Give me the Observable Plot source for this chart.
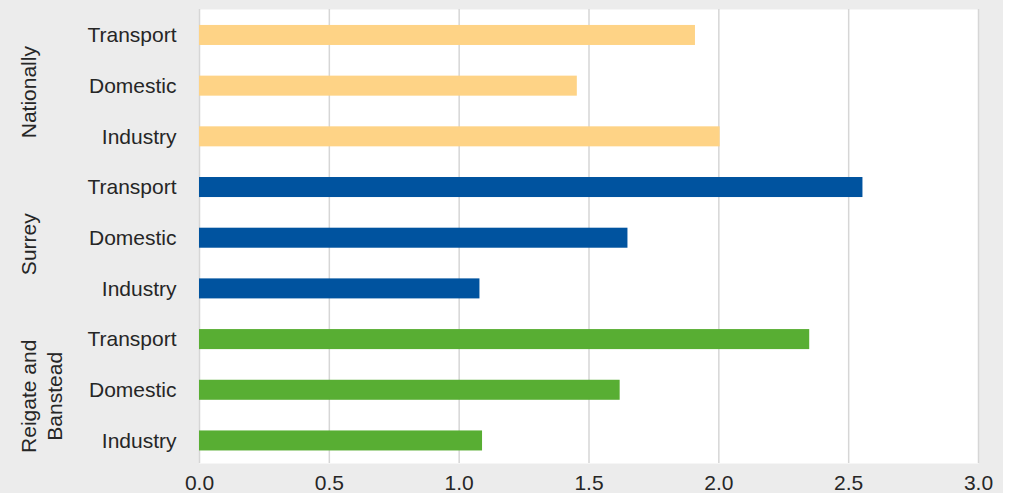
<!DOCTYPE html>
<html>
<head>
<meta charset="utf-8">
<script src="https://cdn.jsdelivr.net/npm/d3@7"></script>
<script src="https://cdn.jsdelivr.net/npm/@observablehq/plot@0.6"></script>
<style>
  html, body { margin: 0; padding: 0; background: #ffffff; }
  #chart { width: 1003px; height: 493px; background: #ececec; }
</style>
</head>
<body>
<div id="chart"></div>
<script>
const groups = ["Nationally", "Surrey", "Reigate and Banstead"];
const groupLabels = ["Nationally", "Surrey", "Reigate and\nBanstead"];
const sectors = ["Transport", "Domestic", "Industry"];
const nationally = [1.91, 1.455, 2.005];
const surrey = [2.555, 1.65, 1.08];
const reigate = [2.35, 1.62, 1.09];
const xTicks = [0, 0.5, 1, 1.5, 2, 2.5, 3];
const colors = ["#fed386", "#00539f", "#58ae33"];

const seriesValues = [nationally, surrey, reigate];
const rows = [];
groups.forEach((g, gi) => {
  sectors.forEach((s, si) => {
    rows.push({group: g, sector: s, key: g + "|" + s, value: seriesValues[gi][si]});
  });
});
const labelRows = groups.map((g, i) => ({key: g + "|" + sectors[1], label: groupLabels[i]}));

const chart = Plot.plot({
  width: 1003,
  height: 493,
  marginLeft: 199,
  marginRight: 25,
  marginTop: 9,
  marginBottom: 30,
  style: {
    background: "#ececec",
    fontFamily: "Liberation Sans, Arial, sans-serif",
    fontSize: "21px",
    color: "#262626"
  },
  x: {domain: [0, 3], ticks: xTicks, tickFormat: d3.format(".1f"), tickSize: 0, tickPadding: 12, label: null},
  y: {domain: rows.map(d => d.key), paddingInner: 0.605, paddingOuter: 0.281, align: 0.56, round: false, tickSize: 0, tickPadding: 23,
      tickFormat: d => d.split("|")[1], label: null},
  color: {domain: groups, range: colors},
  marks: [
    Plot.frame({fill: "white", stroke: null}),
    Plot.gridX(xTicks, {stroke: "#d6d6d6", strokeOpacity: 1, strokeWidth: 1.5}),
    Plot.barX(rows, {x: "value", y: "key", fill: "group"}),
    Plot.axisX({ticks: xTicks, tickFormat: d3.format(".1f"), tickSize: 0, tickPadding: 12, fill: "#262626", fontSize: 21, label: null}),
    Plot.axisY({tickSize: 0, tickPadding: 23, tickFormat: d => d.split("|")[1], fill: "#262626", fontSize: 21, label: null}),
    Plot.text(labelRows, {
      y: "key", text: "label", frameAnchor: "left", dx: -181, dy: 6,
      rotate: -90, textAnchor: "middle", lineAnchor: "top", lineHeight: 1.2,
      fill: "#262626", fontSize: 21
    })
  ]
});
document.getElementById("chart").appendChild(chart);
</script>
</body>
</html>
